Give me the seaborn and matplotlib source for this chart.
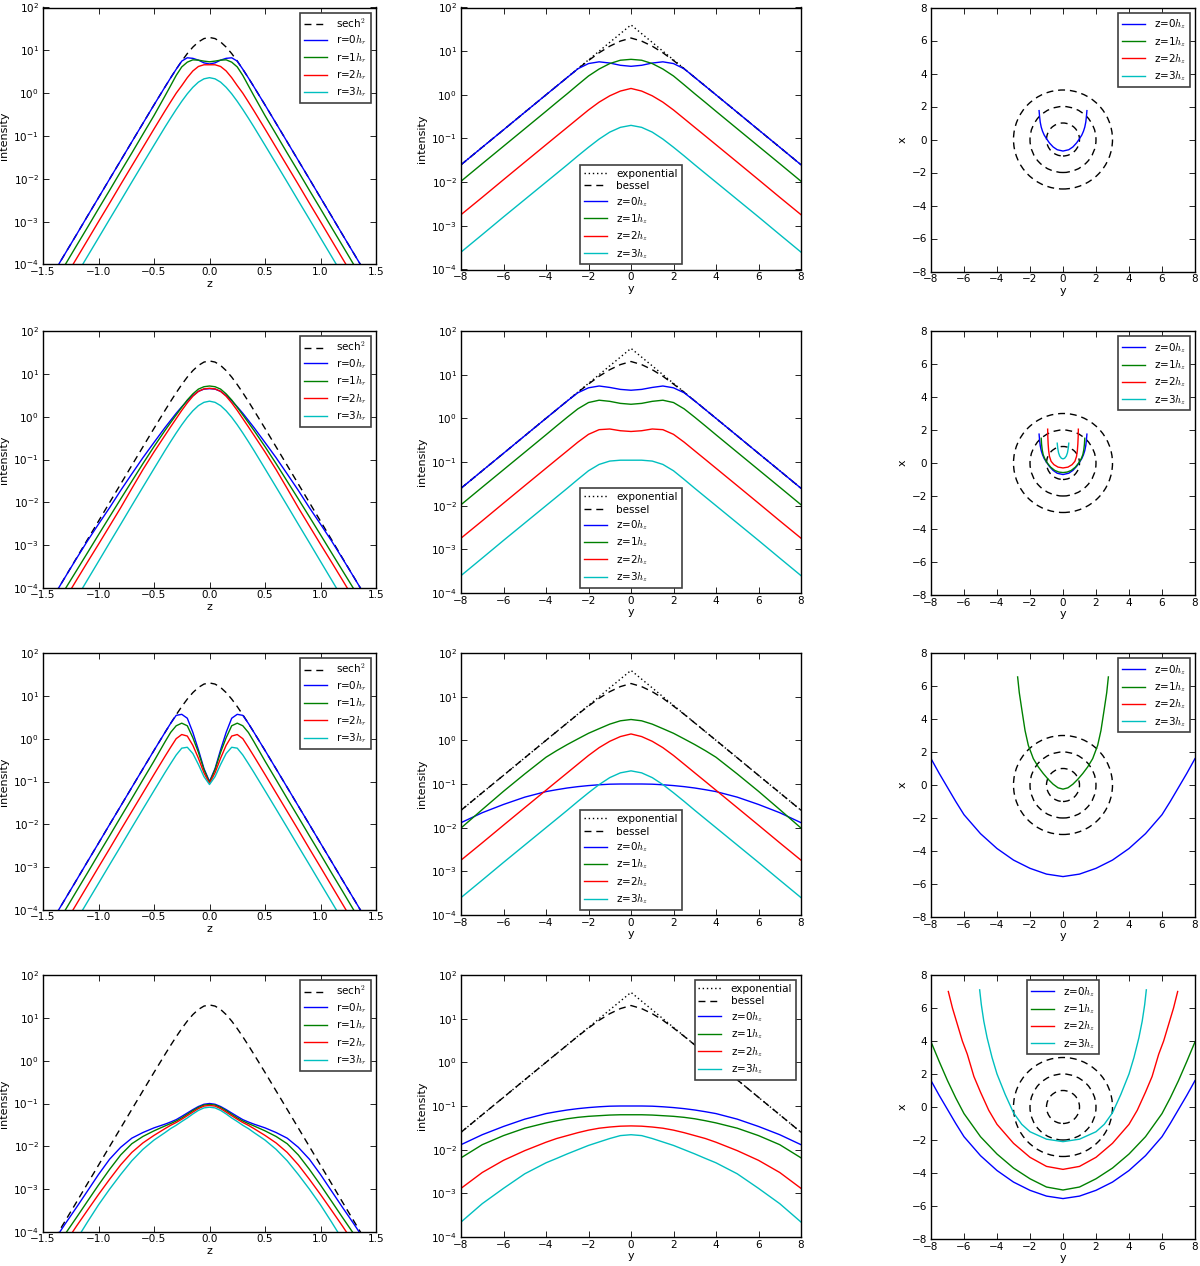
import numpy as np
import matplotlib
matplotlib.use("Agg")
import matplotlib.pyplot as plt
import seaborn as sns
from matplotlib.patches import Circle
from matplotlib.ticker import NullLocator, FixedLocator

# ------------------------------------------------------------------
# DATA (profiles are symmetric, so the z>=0 /
# y>=0 half is listed and mirrored for drawing)
# ------------------------------------------------------------------
Z_HALF = [0, 0.05, 0.1, 0.15, 0.2, 0.25, 0.3, 0.35, 0.4, 0.5, 0.6, 0.7,
          0.8, 0.9, 1.0, 1.1, 1.2, 1.3, 1.4, 1.5]

SECH2 = [20, 18.8, 15.7, 11.9, 8.4, 5.61, 3.62, 2.28, 1.41, 0.532, 0.197,
         0.0728, 0.0268, 9.9e-3, 3.63e-3, 1.34e-3, 4.9e-4, 1.81e-4, 6.7e-5, 2.45e-5]

# vertical profiles, row 1..4, r = 0,1,2,3 h_r
V1_R0 = [4.8, 5.1, 5.9, 6.5, 6.7, 5.6, 3.62, 2.28, 1.41, 0.532, 0.197, 0.0728,
         0.0268, 9.9e-3, 3.63e-3, 1.34e-3, 4.9e-4, 1.81e-4, 6.7e-5, 2.45e-5]
V1_R1 = [5.4, 5.6, 5.9, 6.0, 5.3, 4.1, 2.6, 1.5, 0.87, 0.30, 0.11, 0.040,
         0.0148, 5.4e-3, 2.0e-3, 7.3e-4, 2.7e-4, 9.9e-5, 3.7e-5, 1.35e-5]
V1_R2 = [4.6, 4.6, 4.2, 3.3, 2.3, 1.5, 1.0, 0.626, 0.389, 0.146, 0.054, 0.020,
         7.4e-3, 2.7e-3, 1.0e-3, 3.67e-4, 1.35e-4, 5.0e-5, 1.83e-5, 6.7e-6]
V1_R3 = [2.3, 2.16, 1.81, 1.37, 0.966, 0.645, 0.416, 0.262, 0.163, 0.061, 0.0227,
         8.4e-3, 3.08e-3, 1.14e-3, 4.18e-4, 1.54e-4, 5.65e-5, 2.08e-5, 7.7e-6, 2.8e-6]

V2_R0 = [4.5, 4.4, 3.9, 3.1, 2.35, 1.7, 1.2, 0.82, 0.56, 0.25, 0.11, 0.046,
         0.019, 7.5e-3, 3.1e-3, 1.25e-3, 4.8e-4, 1.8e-4, 6.7e-5, 2.5e-5]
V2_R1 = [5.2, 5.0, 4.4, 3.4, 2.45, 1.65, 1.1, 0.73, 0.48, 0.2, 0.08, 0.031,
         0.012, 4.6e-3, 1.75e-3, 6.6e-4, 2.5e-4, 9.5e-5, 3.6e-5, 1.4e-5]
V2_R2 = [4.6, 4.45, 3.9, 3.0, 2.1, 1.4, 0.9, 0.58, 0.37, 0.15, 0.058, 0.021,
         7.5e-3, 2.8e-3, 1.05e-3, 4.0e-4, 1.5e-4, 5.6e-5, 2.1e-5, 8e-6]
V2_R3 = [2.3, 2.16, 1.81, 1.37, 0.966, 0.645, 0.416, 0.262, 0.163, 0.061, 0.0227,
         8.4e-3, 3.08e-3, 1.14e-3, 4.18e-4, 1.54e-4, 5.65e-5, 2.08e-5, 7.7e-6, 2.8e-6]

V3_R0 = [0.1, 0.2, 0.55, 1.4, 3.0, 3.7, 3.5, 2.28, 1.41, 0.532, 0.197, 0.0728,
         0.0268, 9.9e-3, 3.63e-3, 1.34e-3, 4.9e-4, 1.81e-4, 6.7e-5, 2.45e-5]
V3_R1 = [0.095, 0.19, 0.48, 1.05, 2.0, 2.3, 2.0, 1.4, 0.85, 0.30, 0.11, 0.040,
         0.0148, 5.4e-3, 2.0e-3, 7.3e-4, 2.7e-4, 9.9e-5, 3.7e-5, 1.35e-5]
V3_R2 = [0.09, 0.16, 0.35, 0.7, 1.15, 1.25, 1.0, 0.63, 0.39, 0.146, 0.054, 0.020,
         7.4e-3, 2.7e-3, 1.0e-3, 3.67e-4, 1.35e-4, 5.0e-5, 1.83e-5, 6.7e-6]
V3_R3 = [0.085, 0.13, 0.25, 0.45, 0.63, 0.6, 0.416, 0.262, 0.163, 0.061, 0.0227,
         8.4e-3, 3.08e-3, 1.14e-3, 4.18e-4, 1.54e-4, 5.65e-5, 2.08e-5, 7.7e-6, 2.8e-6]

V4_R0 = [0.1, 0.096, 0.085, 0.072, 0.06, 0.05, 0.042, 0.037, 0.033, 0.027, 0.021,
         0.0155, 9.5e-3, 5.0e-3, 2.2e-3, 9.0e-4, 3.7e-4, 1.55e-4, 6.3e-5, 2.4e-5]
V4_R1 = [0.095, 0.092, 0.081, 0.068, 0.056, 0.046, 0.039, 0.034, 0.030, 0.023, 0.017,
         0.0115, 6.3e-3, 2.9e-3, 1.25e-3, 5.2e-4, 2.15e-4, 9.0e-5, 3.7e-5, 1.5e-5]
V4_R2 = [0.09, 0.087, 0.076, 0.063, 0.052, 0.043, 0.036, 0.031, 0.026, 0.018, 0.012,
         7.2e-3, 3.7e-3, 1.7e-3, 7.5e-4, 3.2e-4, 1.35e-4, 5.5e-5, 2.2e-5, 9e-6]
V4_R3 = [0.082, 0.079, 0.069, 0.057, 0.046, 0.038, 0.031, 0.026, 0.021, 0.014, 8.5e-3,
         4.6e-3, 2.2e-3, 1.0e-3, 4.3e-4, 1.7e-4, 6.5e-5, 2.5e-5, 1e-5, 4e-6]

# radial profiles
Y_HALF = [0, 0.5, 1, 1.5, 2, 2.5, 3, 3.5, 4, 5, 6, 7, 8]
EXPO = [40, 25.2, 15.9, 10.0, 6.32, 3.99, 2.51, 1.59, 1.0, 0.398, 0.158, 0.063, 0.025]
BESSEL = [20, 17, 13, 9.2, 6.1, 3.95, 2.5, 1.58, 1.0, 0.398, 0.158, 0.063, 0.025]

H1_Z0 = [4.5, 4.75, 5.35, 5.7, 5.2, 3.95, 2.5, 1.58, 1.0, 0.398, 0.158, 0.063, 0.025]
H1_Z1 = [6.5, 6.2, 5.2, 3.9, 2.7, 1.7, 1.06, 0.67, 0.42, 0.167, 0.0665, 0.0265, 0.0105]
H1_Z2 = [1.4, 1.22, 0.95, 0.68, 0.45, 0.285, 0.18, 0.114, 0.072, 0.0287, 0.0114, 4.5e-3, 1.8e-3]
H1_Z3 = [0.2, 0.18, 0.14, 0.097, 0.063, 0.04, 0.025, 0.0158, 0.01, 4.0e-3, 1.6e-3, 6.3e-4, 2.5e-4]

H2_Z0 = [4.4, 4.6, 5.1, 5.5, 5.0, 3.85, 2.5, 1.58, 1.0, 0.398, 0.158, 0.063, 0.025]
H2_Z1 = [2.1, 2.2, 2.45, 2.6, 2.3, 1.65, 1.06, 0.67, 0.42, 0.167, 0.0665, 0.0265, 0.0105]
H2_Z2 = [0.5, 0.52, 0.57, 0.55, 0.43, 0.285, 0.18, 0.114, 0.072, 0.0287, 0.0114, 4.5e-3, 1.8e-3]
H2_Z3 = [0.11, 0.11, 0.105, 0.088, 0.063, 0.04, 0.025, 0.0158, 0.01, 4.0e-3, 1.6e-3, 6.3e-4, 2.5e-4]

H3_Z0 = [0.1, 0.1, 0.099, 0.096, 0.092, 0.087, 0.081, 0.074, 0.067, 0.05, 0.034, 0.022, 0.013]
H3_Z1 = [3.0, 2.8, 2.35, 1.85, 1.45, 1.08, 0.8, 0.58, 0.41, 0.17, 0.068, 0.026, 0.0098]
H3_Z2 = [1.4, 1.22, 0.95, 0.68, 0.45, 0.285, 0.18, 0.114, 0.072, 0.0287, 0.0114, 4.5e-3, 1.8e-3]
H3_Z3 = [0.2, 0.18, 0.14, 0.097, 0.063, 0.04, 0.025, 0.0158, 0.01, 4.0e-3, 1.6e-3, 6.3e-4, 2.5e-4]

H4_Z0 = [0.1, 0.1, 0.099, 0.096, 0.092, 0.087, 0.081, 0.074, 0.067, 0.05, 0.034, 0.022, 0.013]
H4_Z1 = [0.063, 0.063, 0.062, 0.06, 0.058, 0.055, 0.051, 0.046, 0.041, 0.031, 0.021, 0.013, 6.5e-3]
H4_Z2 = [0.035, 0.0345, 0.033, 0.031, 0.028, 0.0245, 0.021, 0.018, 0.0148, 9.5e-3, 5.7e-3, 3.0e-3, 1.3e-3]
H4_Z3 = [0.022, 0.021, 0.018, 0.015, 0.0125, 0.01, 8e-3, 6.3e-3, 5e-3, 2.8e-3, 1.3e-3, 5.8e-4, 2.2e-4]

# loci in the (y, x) plane: y<=0 half, mirrored about y=0
C1_Z0_Y = [-1.45, -1.42, -1.38, -1.32, -1.24, -1.14, -1.0, -0.83, -0.6, -0.35, 0]
C1_Z0_X = [1.75, 1.4, 1.05, 0.75, 0.5, 0.27, 0.05, -0.2, -0.45, -0.62, -0.7]

C2_Z0_Y = [-1.45, -1.42, -1.38, -1.32, -1.24, -1.14, -1.0, -0.83, -0.6, -0.35, 0]
C2_Z0_X = [1.75, 1.4, 1.05, 0.75, 0.5, 0.27, 0.05, -0.2, -0.45, -0.62, -0.7]
C2_Z1_Y = [-1.32, -1.3, -1.26, -1.2, -1.1, -0.95, -0.75, -0.5, -0.25, 0]
C2_Z1_X = [1.5, 1.15, 0.8, 0.5, 0.25, 0.0, -0.25, -0.45, -0.55, -0.58]
C2_Z2_Y = [-0.93, -0.92, -0.9, -0.87, -0.82, -0.72, -0.55, -0.3, 0]
C2_Z2_X = [2.05, 1.6, 1.15, 0.75, 0.4, 0.1, -0.1, -0.25, -0.3]
C2_Z3_Y = [-0.35, -0.32, -0.27, -0.2, -0.1, 0]
C2_Z3_X = [1.2, 0.9, 0.62, 0.42, 0.29, 0.25]

C3_Z0_Y = [-8, -7.5, -7, -6.5, -6, -5, -4, -3, -2, -1, 0]
C3_Z0_X = [1.6, 0.7, -0.15, -1.0, -1.8, -2.95, -3.85, -4.55, -5.05, -5.4, -5.55]
C3_Z1_Y = [-2.75, -2.65, -2.5, -2.3, -2.1, -1.8, -1.5, -1.2, -0.9, -0.6, -0.3, 0]
C3_Z1_X = [6.55, 5.6, 4.6, 3.3, 2.4, 1.6, 1.1, 0.7, 0.35, 0.05, -0.17, -0.25]

C4_Z0_Y = [-8, -7.5, -7, -6.5, -6, -5, -4, -3, -2, -1, 0]
C4_Z0_X = [1.6, 0.7, -0.15, -1.0, -1.8, -2.95, -3.85, -4.55, -5.05, -5.4, -5.55]
C4_Z1_Y = [-8, -7.5, -7, -6.5, -6, -5, -4, -3, -2, -1, 0]
C4_Z1_X = [3.95, 2.75, 1.6, 0.55, -0.4, -1.8, -2.85, -3.7, -4.35, -4.85, -5.03]
C4_Z2_Y = [-6.95, -6.7, -6.4, -6.1, -5.8, -5.4, -5.0, -4.5, -4.0, -3.0, -2.0, -1.0, 0]
C4_Z2_X = [7.0, 6.0, 5.0, 4.0, 3.2, 1.85, 0.9, -0.2, -1.05, -2.2, -3.05, -3.6, -3.78]
C4_Z3_Y = [-5.05, -4.95, -4.8, -4.6, -4.3, -4.0, -3.5, -3.0, -2.5, -2.0, -1.0, 0]
C4_Z3_X = [7.1, 6.2, 5.2, 4.2, 3.0, 2.0, 0.75, -0.35, -1.05, -1.5, -1.95, -2.1]

CIRCLE_RADII = [1, 2, 3]

R_LABELS = ["r=0$h_r$", "r=1$h_r$", "r=2$h_r$", "r=3$h_r$"]
Z_LABELS = ["z=0$h_z$", "z=1$h_z$", "z=2$h_z$", "z=3$h_z$"]
TICKS_Z = [-1.5, -1.0, -0.5, 0.0, 0.5, 1.0, 1.5]
TICKS_Y = [-8, -6, -4, -2, 0, 2, 4, 6, 8]
DECADES = [1e-4, 1e-3, 1e-2, 1e-1, 1e0, 1e1, 1e2]

# ------------------------------------------------------------------
COLORS = ["#0000ff", "#008000", "#ff0000", "#00bfbf"]

plt.rcParams.update({
    "font.family": ["DejaVu Sans"],
    "mathtext.fontset": "cm",
    "font.size": 7.5,
    "axes.linewidth": 1.0,
    "lines.linewidth": 1.0,
    "lines.dashed_pattern": [5, 3.5],
    "lines.dotted_pattern": [1, 2],
    "xtick.direction": "in", "ytick.direction": "in",
    "xtick.top": True, "ytick.right": True,
    "xtick.major.size": 4, "ytick.major.size": 4,
    "xtick.major.width": 0.6, "ytick.major.width": 0.6,
    "xtick.major.pad": 1.8, "ytick.major.pad": 3,
    "xtick.labelsize": 7.5, "ytick.labelsize": 7.5,
    "axes.labelsize": 8,
    "legend.fontsize": 7.5,
    "axes.unicode_minus": True,
})

W, H = 1200, 1266
fig = plt.figure(figsize=(W / 100, H / 100), dpi=100)


def add_ax(left, top, w, h):
    return fig.add_axes([left / W, 1 - (top + h) / H, w / W, h / H])


def mirror(pos, vals):
    pos = np.asarray(pos, float)
    vals = np.asarray(vals, float)
    return np.concatenate([-pos[:0:-1], pos]), np.concatenate([vals[:0:-1], vals])


def mirror_locus(ys, xs):
    ys = np.asarray(ys, float)
    xs = np.asarray(xs, float)
    return np.concatenate([ys, -ys[-2::-1]]), np.concatenate([xs, xs[-2::-1]])


def draw(ax, x, y, color, label=None, ls="-"):
    sns.lineplot(x=x, y=y, ax=ax, color=color, label=label, linestyle=ls,
                 estimator=None, sort=False, lw=1.0)


def style_legend(ax, loc):
    leg = ax.legend(loc=loc, handlelength=2.2, handletextpad=0.9,
                    borderpad=0.35, labelspacing=0.25, borderaxespad=0.5,
                    fancybox=False, framealpha=1.0)
    leg.get_frame().set_edgecolor("0.25")
    leg.get_frame().set_linewidth(1.2)


def log_axis(ax):
    ax.set_yscale("log")
    ax.set_ylim(1e-4, 1e2)
    ax.yaxis.set_major_locator(FixedLocator(DECADES))
    ax.yaxis.set_minor_locator(NullLocator())


def labels(ax, xl, yl):
    ax.set_xlabel(xl, labelpad=1.2)
    ax.set_ylabel(yl, labelpad=3)


vert_rows = [
    [V1_R0, V1_R1, V1_R2, V1_R3],
    [V2_R0, V2_R1, V2_R2, V2_R3],
    [V3_R0, V3_R1, V3_R2, V3_R3],
    [V4_R0, V4_R1, V4_R2, V4_R3],
]
rad_rows = [
    [H1_Z0, H1_Z1, H1_Z2, H1_Z3],
    [H2_Z0, H2_Z1, H2_Z2, H2_Z3],
    [H3_Z0, H3_Z1, H3_Z2, H3_Z3],
    [H4_Z0, H4_Z1, H4_Z2, H4_Z3],
]
loci_rows = [
    [(C1_Z0_Y, C1_Z0_X), None, None, None],
    [(C2_Z0_Y, C2_Z0_X), (C2_Z1_Y, C2_Z1_X), (C2_Z2_Y, C2_Z2_X), (C2_Z3_Y, C2_Z3_X)],
    [(C3_Z0_Y, C3_Z0_X), (C3_Z1_Y, C3_Z1_X), None, None],
    [(C4_Z0_Y, C4_Z0_X), (C4_Z1_Y, C4_Z1_X), (C4_Z2_Y, C4_Z2_X), (C4_Z3_Y, C4_Z3_X)],
]
rad_legend_loc = ["lower center", "lower center", "lower center", "upper right"]
loc_legend_loc = ["upper right", "upper right", "upper right", "upper center"]

ROW_TOPS = [7.5, 331, 653, 975]

for i, top in enumerate(ROW_TOPS):
    # ---- column 1: vertical profiles
    ax = add_ax(43, top, 333, 257)
    zf, sf = mirror(Z_HALF, SECH2)
    draw(ax, zf, sf, "k", "sech$^2$", "--")
    for k, vals in enumerate(vert_rows[i]):
        zf, vf = mirror(Z_HALF, vals)
        draw(ax, zf, vf, COLORS[k], R_LABELS[k])
    log_axis(ax)
    ax.set_xlim(-1.5, 1.5)
    ax.set_xticks(TICKS_Z)
    labels(ax, "z", "intensity")
    style_legend(ax, "upper right")

    # ---- column 2: radial profiles
    ax = add_ax(461, top, 340, 262)
    yf, ef = mirror(Y_HALF, EXPO)
    draw(ax, yf, ef, "k", "exponential", ":")
    yf, bf = mirror(Y_HALF, BESSEL)
    draw(ax, yf, bf, "k", "bessel", "--")
    for k, vals in enumerate(rad_rows[i]):
        yf, vf = mirror(Y_HALF, vals)
        draw(ax, yf, vf, COLORS[k], Z_LABELS[k])
    log_axis(ax)
    ax.set_xlim(-8, 8)
    ax.set_xticks(TICKS_Y)
    labels(ax, "y", "intensity")
    style_legend(ax, rad_legend_loc[i])

    # ---- column 3: loci in the (y, x) plane
    ax = add_ax(931, top, 264, 264)
    for r in CIRCLE_RADII:
        ax.add_patch(Circle((0, 0), r, fill=False, ec="k", ls="--", lw=1.0))
    for k, locus in enumerate(loci_rows[i]):
        if locus is None:
            ax.plot([], [], color=COLORS[k], lw=1.0, label=Z_LABELS[k])
        else:
            yy, xx = mirror_locus(*locus)
            draw(ax, yy, xx, COLORS[k], Z_LABELS[k])
    ax.set_xlim(-8, 8)
    ax.set_ylim(-8, 8)
    ax.set_xticks(TICKS_Y)
    ax.set_yticks(TICKS_Y)
    ax.set_aspect("equal", adjustable="box")
    labels(ax, "y", "x")
    style_legend(ax, loc_legend_loc[i])

fig.savefig("out.png", dpi=100)
